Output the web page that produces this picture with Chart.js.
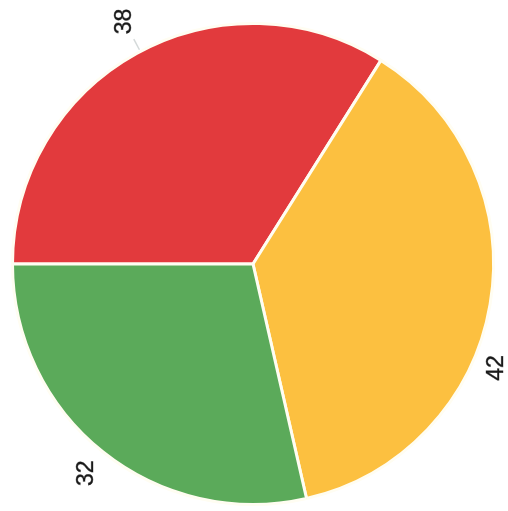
<!DOCTYPE html>
<html>
<head>
<meta charset="utf-8">
<script src="https://cdn.jsdelivr.net/npm/chart.js@4"></script>
<style>
html,body{margin:0;padding:0;background:#fff;}
#wrap{width:508px;height:511px;position:relative;}
</style>
</head>
<body>
<div id="wrap"><canvas id="c" width="508" height="511"></canvas></div>
<script>
const categories = ["A", "B", "C"];
const values = [38, 42, 32];
const colors = ["#E23A3D", "#FCC040", "#5BAA5A"];
// label placement styling (radial offset beyond pie edge, angular nudge in degrees)
const labelRadialOffset = [34, 24, 27];
const labelAngleNudge = [1, 13.5, 0];

const labelPlugin = {
  id: 'outsideLabels',
  afterDatasetsDraw(chart) {
    const ctx = chart.ctx;
    const meta = chart.getDatasetMeta(0);
    meta.data.forEach((arc, i) => {
      const p = arc.getProps(['x','y','startAngle','endAngle','outerRadius'], true);
      const mid = (p.startAngle + p.endAngle) / 2 + labelAngleNudge[i] * Math.PI / 180;
      const r = p.outerRadius + labelRadialOffset[i];
      const x = p.x + Math.cos(mid) * r;
      const y = p.y + Math.sin(mid) * r;
      if (i === 0) {
        ctx.save();
        ctx.strokeStyle = 'rgba(160,170,170,0.45)';
        ctx.lineWidth = 1.5;
        ctx.beginPath();
        ctx.moveTo(p.x + Math.cos(mid) * (p.outerRadius + 2), p.y + Math.sin(mid) * (p.outerRadius + 2));
        ctx.lineTo(p.x + Math.cos(mid) * (p.outerRadius + 14), p.y + Math.sin(mid) * (p.outerRadius + 14));
        ctx.stroke();
        ctx.restore();
      }
      ctx.save();
      ctx.translate(x, y);
      ctx.rotate(-Math.PI / 2);
      ctx.fillStyle = '#1a1a1a';
      ctx.strokeStyle = 'rgba(26,26,26,0.6)';
      ctx.lineWidth = 0.6;
      ctx.font = '23px "Liberation Sans", Arial, sans-serif';
      ctx.textAlign = 'center';
      ctx.textBaseline = 'middle';
      ctx.fillText(String(values[i]), 0, 0);
      ctx.strokeText(String(values[i]), 0, 0);
      ctx.restore();
    });
  }
};

new Chart(document.getElementById('c'), {
  type: 'pie',
  data: {
    labels: categories,
    datasets: [{
      data: values,
      backgroundColor: colors,
      borderColor: '#FFFDF2',
      borderWidth: 3
    }]
  },
  options: {
    responsive: false,
    animation: false,
    rotation: 270,
    layout: { padding: { left: 11, right: 13, top: 22, bottom: 5 } },
    plugins: { legend: { display: false }, tooltip: { enabled: false } }
  },
  plugins: [labelPlugin]
});
</script>
</body>
</html>
